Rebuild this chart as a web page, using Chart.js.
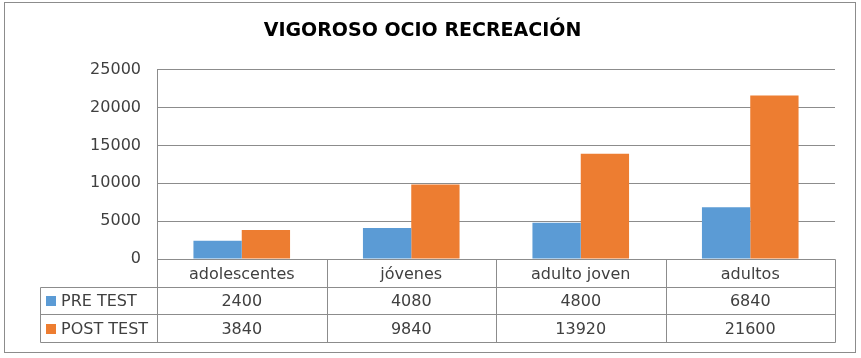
<!DOCTYPE html>
<html>
<head>
<meta charset="utf-8">
<script src="https://cdn.jsdelivr.net/npm/chart.js@4/dist/chart.umd.min.js"></script>
<style>
  html, body { margin: 0; padding: 0; background: #ffffff; }
  #wrap { position: relative; width: 861px; height: 358px; }
</style>
</head>
<body>
<div id="wrap"><canvas id="c" width="861" height="358"></canvas></div>
<script>
const chartTitle = 'VIGOROSO OCIO RECREACIÓN';
const categories = ['adolescentes', 'jóvenes', 'adulto joven', 'adultos'];
const seriesNames = ['PRE TEST', 'POST TEST'];
const preTest = [2400, 4080, 4800, 6840];
const postTest = [3840, 9840, 13920, 21600];
const yMin = 0;
const yMax = 25000;
const yStep = 5000;

const FONT = 'DejaVu Sans';
const TEXT = '#404040';
const LINE = '#8c8c8c';
const BLUE = '#5B9BD5';
const ORANGE = '#ED7D31';

const tablePlugin = {
  id: 'dataTable',
  beforeDraw(chart) {
    const ctx = chart.ctx;
    ctx.save();
    ctx.fillStyle = '#ffffff';
    ctx.fillRect(0, 0, chart.width, chart.height);
    ctx.strokeStyle = LINE;
    ctx.lineWidth = 1;
    ctx.strokeRect(4.5, 2.5, 851, 350);
    ctx.restore();
  },
  afterDraw(chart) {
    const ctx = chart.ctx;
    const area = chart.chartArea;
    const xs = chart.scales.x;
    const n = categories.length;
    const rowH = 27.7;
    const top = area.bottom;
    const rows = [top, top + rowH, top + 2 * rowH, top + 3 * rowH].map(v => Math.round(v) + 0.5);
    const legendLeft = 40.5;
    const L = Math.round(area.left) + 0.5;
    const R = Math.round(area.right) + 0.5;
    const w = (area.right - area.left) / n;
    ctx.save();
    ctx.strokeStyle = LINE;
    ctx.lineWidth = 1;
    ctx.beginPath();
    ctx.moveTo(L, Math.round(area.top)); ctx.lineTo(L, rows[3]);
    ctx.moveTo(L, rows[0]); ctx.lineTo(R, rows[0]);
    for (let r = 1; r <= 3; r++) { ctx.moveTo(legendLeft, rows[r]); ctx.lineTo(R, rows[r]); }
    ctx.moveTo(legendLeft, rows[1]); ctx.lineTo(legendLeft, rows[3]);
    for (let i = 1; i <= n; i++) {
      const x = Math.round(area.left + i * w) + 0.5;
      ctx.moveTo(x, rows[0]); ctx.lineTo(x, rows[3]);
    }
    ctx.stroke();

    ctx.fillStyle = TEXT;
    ctx.font = '16px "' + FONT + '"';
    ctx.textAlign = 'center';
    ctx.textBaseline = 'middle';
    const values = [preTest, postTest];
    for (let i = 0; i < n; i++) {
      const cx = xs.getPixelForValue(i);
      ctx.fillText(categories[i], cx, (rows[0] + rows[1]) / 2 + 1);
      for (let s = 0; s < 2; s++) {
        ctx.fillText(String(values[s][i]), cx, (rows[s + 1] + rows[s + 2]) / 2 + 1);
      }
    }
    ctx.textAlign = 'left';
    chart.data.datasets.forEach((ds, s) => {
      const cy = (rows[s + 1] + rows[s + 2]) / 2;
      ctx.fillStyle = ds.backgroundColor;
      ctx.fillRect(46, Math.round(cy - 5), 10, 10);
      ctx.fillStyle = TEXT;
      ctx.fillText(ds.label, 61, cy + 1);
    });
    ctx.restore();
  }
};

new Chart(document.getElementById('c'), {
  type: 'bar',
  data: {
    labels: categories,
    datasets: [
      { label: seriesNames[0], data: preTest, backgroundColor: BLUE, borderWidth: 0 },
      { label: seriesNames[1], data: postTest, backgroundColor: ORANGE, borderWidth: 0 }
    ]
  },
  options: {
    responsive: false,
    animation: false,
    events: [],
    layout: { padding: { left: 10, right: 26, top: 0, bottom: 99 } },
    datasets: { bar: { categoryPercentage: 0.57, barPercentage: 1.0 } },
    plugins: {
      legend: { display: false },
      tooltip: { enabled: false },
      title: {
        display: true,
        text: chartTitle,
        color: '#000000',
        font: { family: FONT, size: 19, weight: 'bold' },
        padding: { top: 20, bottom: 27 }
      }
    },
    scales: {
      x: { display: false },
      y: {
        min: yMin,
        max: yMax,
        afterFit(scale) { scale.width = 147; },
        ticks: {
          stepSize: yStep,
          padding: 16,
          color: TEXT,
          font: { family: FONT, size: 16 },
          callback: (v) => String(v)
        },
        grid: { color: LINE, drawTicks: false },
        border: { display: false }
      }
    }
  },
  plugins: [tablePlugin]
});
</script>
</body>
</html>
